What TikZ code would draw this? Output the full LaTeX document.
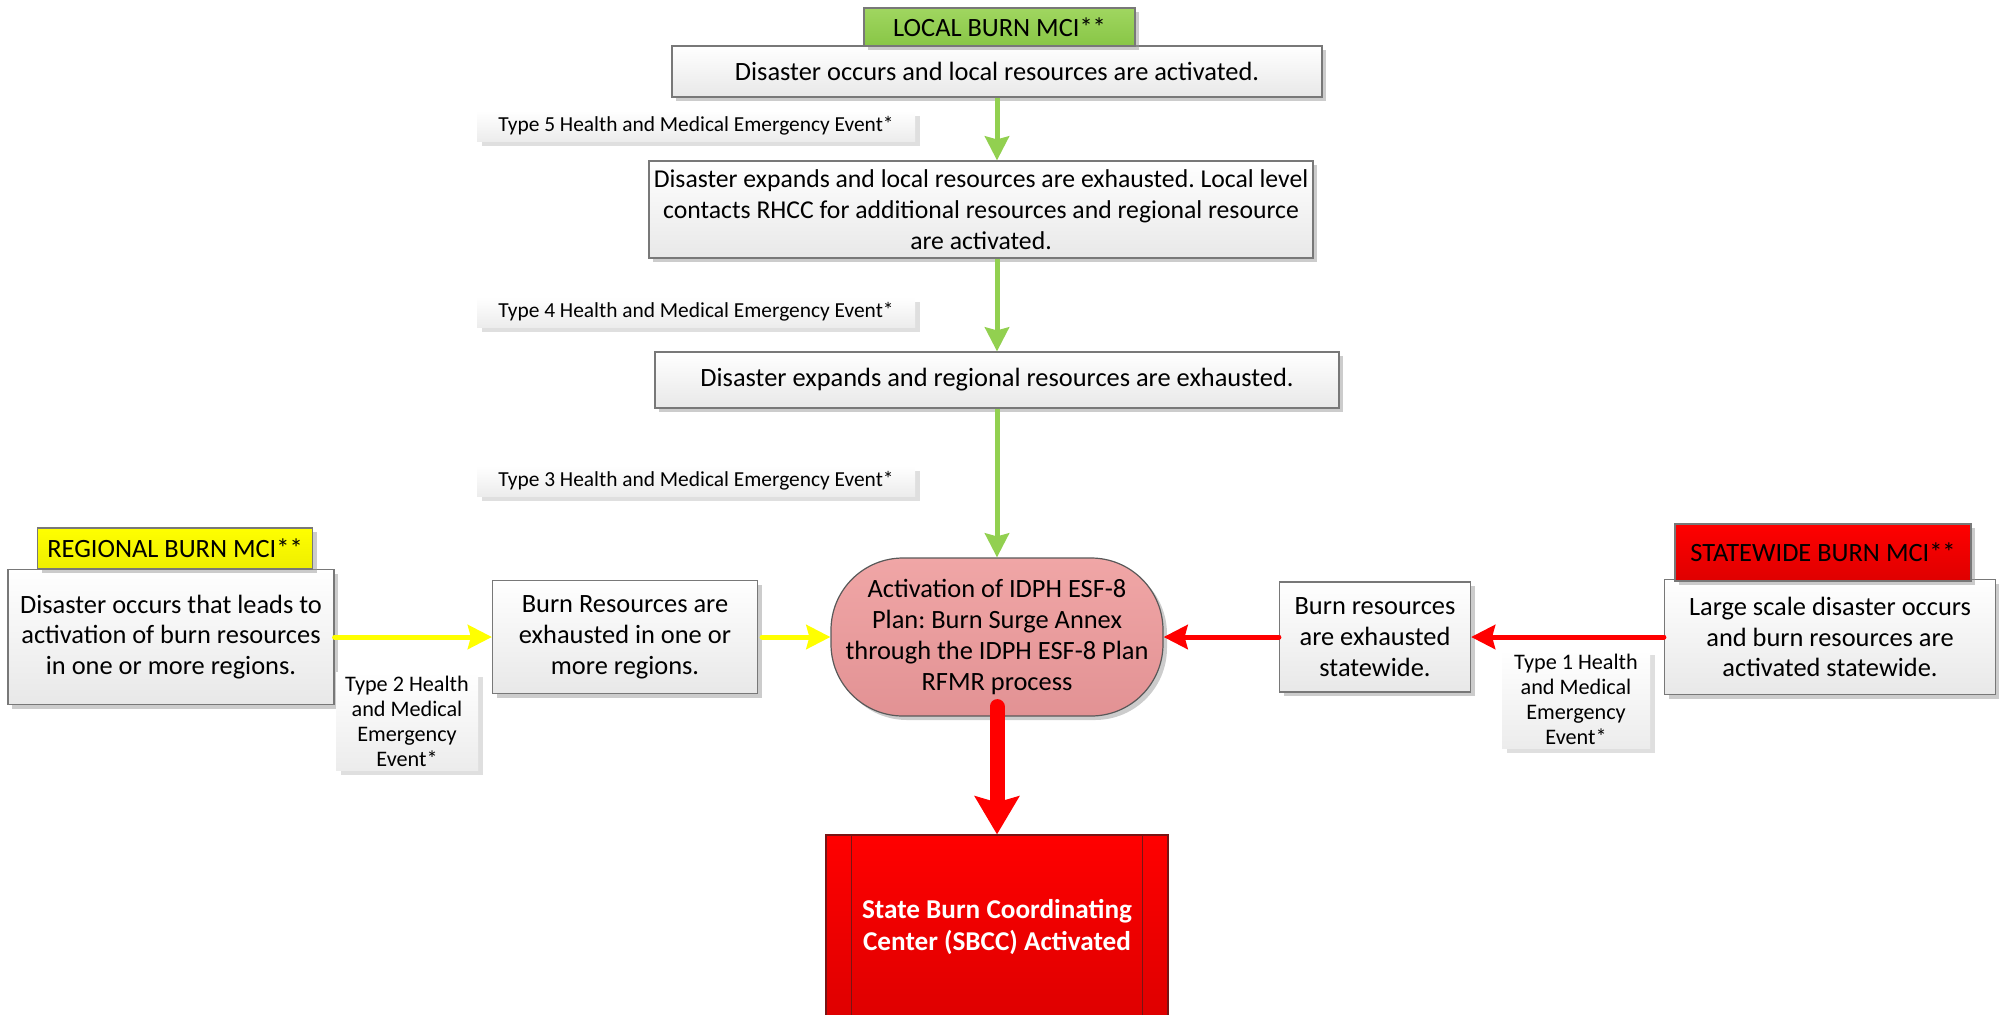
\documentclass[tikz,border=0pt]{standalone}
\usepackage{fontspec}
\setmainfont{Carlito}
\usetikzlibrary{arrows.meta,shadows}
\definecolor{boxgray}{RGB}{120,120,120}
\definecolor{boxbot}{RGB}{232,232,232}
\definecolor{typebot}{RGB}{236,236,236}
\definecolor{greenA}{RGB}{160,214,96}
\definecolor{greenB}{RGB}{136,198,70}
\definecolor{arrgreen}{RGB}{146,208,80}
\definecolor{yelA}{RGB}{255,255,0}
\definecolor{yelB}{RGB}{238,238,0}
\definecolor{redA}{RGB}{255,0,0}
\definecolor{redB}{RGB}{222,0,0}
\definecolor{pinkA}{RGB}{240,166,166}
\definecolor{pinkB}{RGB}{226,146,148}
\definecolor{darkred}{RGB}{120,20,20}
\newcommand\mymainsz{\fontsize{13.2}{15.4}\selectfont}
\newcommand\mywidesz{\fontsize{12.85}{15.4}\selectfont}
\newcommand\mytypesz{\fontsize{10.7}{12.5}\selectfont}
\newcommand\mysmallsz{\fontsize{11.1}{12.5}\selectfont}
\frenchspacing
\begin{document}
\begin{tikzpicture}[x=0.5pt,y=-0.5pt,
  flowbox/.style={draw=boxgray, line width=0.6pt, top color=white, bottom color=boxbot,
    drop shadow={shadow xshift=2pt, shadow yshift=-2pt, fill=black!40, opacity=0.5},
    align=center, inner sep=0pt, font=\mymainsz},
  typebox/.style={top color=white, bottom color=typebot,
    drop shadow={shadow xshift=2.5pt, shadow yshift=-2.5pt, fill=black!25, opacity=0.5},
    align=center, inner sep=0pt, font=\mytypesz},
  labbox/.style={draw=boxgray, line width=0.6pt,
    drop shadow={shadow xshift=2pt, shadow yshift=-2pt, fill=black!40, opacity=0.5},
    align=center, inner sep=0pt, font=\mymainsz},
  garrow/.style={draw=arrgreen, line width=2.5pt, -{Stealth[width=12pt,length=12pt,inset=1.5pt]}},
  yarrow/.style={draw=yelA, line width=2.5pt, line cap=round, -{Stealth[width=12pt,length=12pt,inset=1.5pt]}},
  rarrow/.style={draw=redA, line width=2.5pt, line cap=round, -{Stealth[width=12pt,length=12pt,inset=1.5pt]}},
  bigarrow/.style={draw=redA, line width=7.5pt, line cap=round, -{Stealth[width=22pt,length=19pt,inset=3pt]}}
]
\useasboundingbox (0,0) rectangle (1999,1014);

% top chain
\node[flowbox, minimum width=325pt, minimum height=25.5pt] (b1) at (997,71.5)
  {Disaster occurs and local resources are activated.};
\node[labbox, top color=greenA, bottom color=greenB, minimum width=135.5pt, minimum height=19pt] (llab) at (999.5,27)
  {LOCAL BURN MCI**};
\node[typebox, minimum width=219pt, minimum height=15pt] (t5) at (696,126)
  {Type 5 Health and Medical Emergency Event*};
\node[flowbox, font=\mywidesz, minimum width=332pt, minimum height=48.5pt] (b2) at (981,209.5)
  {Disaster expands and local resources are exhausted. Local level\\contacts RHCC for additional resources and regional resource\\are activated.};
\node[typebox, minimum width=219pt, minimum height=15pt] (t4) at (696,312)
  {Type 4 Health and Medical Emergency Event*};
\node[flowbox, minimum width=342pt, minimum height=28pt] (b3) at (997,380)
  {Disaster expands and regional resources are exhausted.};
\node[typebox, minimum width=219pt, minimum height=15pt] (t3) at (696,481)
  {Type 3 Health and Medical Emergency Event*};

% center
\node[draw=black!65, line width=0.6pt, top color=pinkA, bottom color=pinkB, rounded corners=36pt,
  drop shadow={shadow xshift=2pt, shadow yshift=-2pt, fill=black!40, opacity=0.5},
  minimum width=166pt, minimum height=79pt, align=center, inner sep=0pt, font=\mymainsz] (act) at (997,637)
  {Activation of IDPH ESF-8\\Plan: Burn Surge Annex\\through the IDPH ESF-8 Plan\\RFMR process};

% left
\node[flowbox, minimum width=163pt, minimum height=67.5pt] (reg) at (171,637)
  {Disaster occurs that leads to\\activation of burn resources\\in one or more regions.};
\node[labbox, top color=yelA, bottom color=yelB, minimum width=137.5pt, minimum height=20.5pt] (rlab) at (175,548.5)
  {REGIONAL BURN MCI**};
\node[flowbox, minimum width=132.5pt, minimum height=56.5pt] (burn) at (625,637)
  {Burn Resources are\\exhausted in one or\\more regions.};
\node[typebox, font=\mysmallsz, minimum width=71pt, minimum height=49pt] (t2) at (407,721)
  {Type 2 Health\\and Medical\\Emergency\\Event*};

% right
\node[flowbox, minimum width=165.5pt, minimum height=57.5pt] (sw) at (1830,637)
  {Large scale disaster occurs\\and burn resources are\\activated statewide.};
\node[labbox, top color=redA, bottom color=redB, minimum width=148pt, minimum height=28.5pt] (slab) at (1823,552.5)
  {STATEWIDE BURN MCI**};
\node[flowbox, minimum width=95.5pt, minimum height=55pt] (bsw) at (1375,637)
  {Burn resources\\are exhausted\\statewide.};
\node[typebox, font=\mysmallsz, minimum width=74pt, minimum height=49pt] (t1) at (1576,699)
  {Type 1 Health\\and Medical\\Emergency\\Event*};

% bottom
\begin{scope}
\clip (0,0) rectangle (1999,1014);
\node[draw=darkred, line width=0.6pt, top color=redA, bottom color=redB,
  minimum width=171pt, minimum height=92pt, align=center, inner sep=0pt,
  text=white, font=\fontsize{13.6}{15.6}\selectfont\bfseries] (sbcc) at (997,927)
  {State Burn Coordinating\\Center (SBCC) Activated};
\draw[darkred, line width=0.6pt] ([xshift=13pt]sbcc.north west) -- ([xshift=13pt]sbcc.south west);
\draw[darkred, line width=0.6pt] ([xshift=-13pt]sbcc.north east) -- ([xshift=-13pt]sbcc.south east);
\end{scope}

% connectors
\draw[garrow] (b1.south) -- (b1.south |- b2.north);
\draw[garrow] (b3.north |- b2.south) -- (b3.north);
\draw[garrow] (b3.south) -- (act.north);
\draw[yarrow] (reg.east) -- (burn.west);
\draw[yarrow] ([xshift=2pt]burn.east) -- (act.west);
\draw[rarrow] (sw.west) -- (bsw.east);
\draw[rarrow] (bsw.west) -- (act.east);
\draw[bigarrow] ([yshift=5pt]act.south) -- (sbcc.north);
\end{tikzpicture}
\end{document}
